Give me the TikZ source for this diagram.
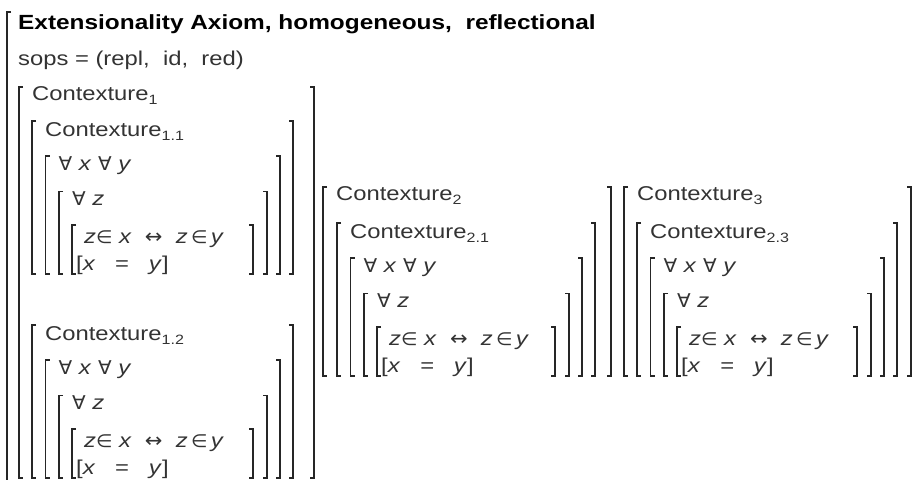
\documentclass[tikz,border=0pt]{standalone}
\usepackage{fontspec}
\setmainfont[FakeStretch=1.19]{Liberation Sans}
\newfontfamily\symf[FakeStretch=1.05]{DejaVu Sans}
\definecolor{txt}{HTML}{333333}
\definecolor{brk}{HTML}{262626}
\newcommand\sbs[1]{\raisebox{-0.2em}{\fontsize{13.5}{13}\selectfont #1}}
\newcommand\fa{{\symf\fontsize{19}{20}\selectfont ∀}}
\newcommand\inn{{\symf\fontsize{18}{20}\selectfont ∈}}
\newcommand\harr{{\symf\fontsize{20}{20}\selectfont ↔}}
\newcommand\vx{\textit{x}}
\newcommand\vy{\textit{y}}
\newcommand\vz{\textit{z}}
\newcommand\lbrk[3]{\draw[bk] (#1+4,#2) -- (#1,#2) -- (#1,#3) -- (#1+4,#3);}
\newcommand\rbrk[3]{\draw[bk] (#1-4,#2) -- (#1,#2) -- (#1,#3) -- (#1-4,#3);}
% #1 L, #2 T, #3 R, #4 label, #5 name prefix
\newcommand\ctxblock[5]{%
  \lbrk{#1}{#2}{#2+153}\rbrk{#3}{#2}{#2+153}
  \node[tx] (#5l) at (#1+13,#2+15) {#4};
  \lbrk{#1+13.5}{#2+35}{#2+153}\rbrk{#3-13}{#2+35}{#2+153}
  \node[tx] (#5a) at (#1+26.5,#2+49) {\fa\ \vx\ \fa\ \vy};
  \lbrk{#1+27}{#2+70.5}{#2+153}\rbrk{#3-26}{#2+70.5}{#2+153}
  \node[tx] (#5b) at (#1+40,#2+84) {\fa\ \vz};
  \lbrk{#1+40}{#2+104}{#2+153}\rbrk{#3-40}{#2+104}{#2+153}
  \node[tx] (#5c) at (#1+52,#2+122) {\vz\inn\ \vx\ \ \harr\ \ \vz\,\inn\,\vy};
  \node[tx] (#5d) at (#1+44,#2+149) {[\vx\ \ \ =\ \ \ \vy]};
}
\begin{document}
\begin{tikzpicture}[x=1pt,y=-1pt,
  bk/.style={draw=brk,line width=1.3pt},
  tx/.style={anchor=base west,inner sep=0pt,text=txt,font=\fontsize{20}{22}\selectfont}]
\useasboundingbox (0,0) rectangle (917,479);
\clip (0,0) rectangle (917,479);
% outer group
\draw[bk] (7+4,12) -- (7,12) -- (7,490);
\node[tx,text=black,font=\fontsize{20.5}{22}\selectfont\bfseries] (title) at (18,29) {Extensionality Axiom, homogeneous,\ \ reflectional};
\node[tx] (sops) at (18,65) {sops = (repl,\ \ id,\ \ red)};
% Contexture 1
\lbrk{19}{87}{478}\rbrk{314}{87}{478}
\node[tx] (c1) at (32,100) {Contexture\sbs{1}};
\ctxblock{32}{121}{293}{Contexture\sbs{1.1}}{c11}
\ctxblock{32}{325}{293}{Contexture\sbs{1.2}}{c12}
% Contexture 2
\lbrk{323}{187}{376}\rbrk{611}{187}{376}
\node[tx] (c2) at (336,200) {Contexture\sbs{2}};
\ctxblock{337}{223}{595}{Contexture\sbs{2.1}}{c21}
% Contexture 3
\lbrk{624}{187}{376}\rbrk{911}{187}{376}
\node[tx] (c3) at (637,200) {Contexture\sbs{3}};
\ctxblock{637}{223}{897}{Contexture\sbs{2.3}}{c23}
\end{tikzpicture}
\end{document}
